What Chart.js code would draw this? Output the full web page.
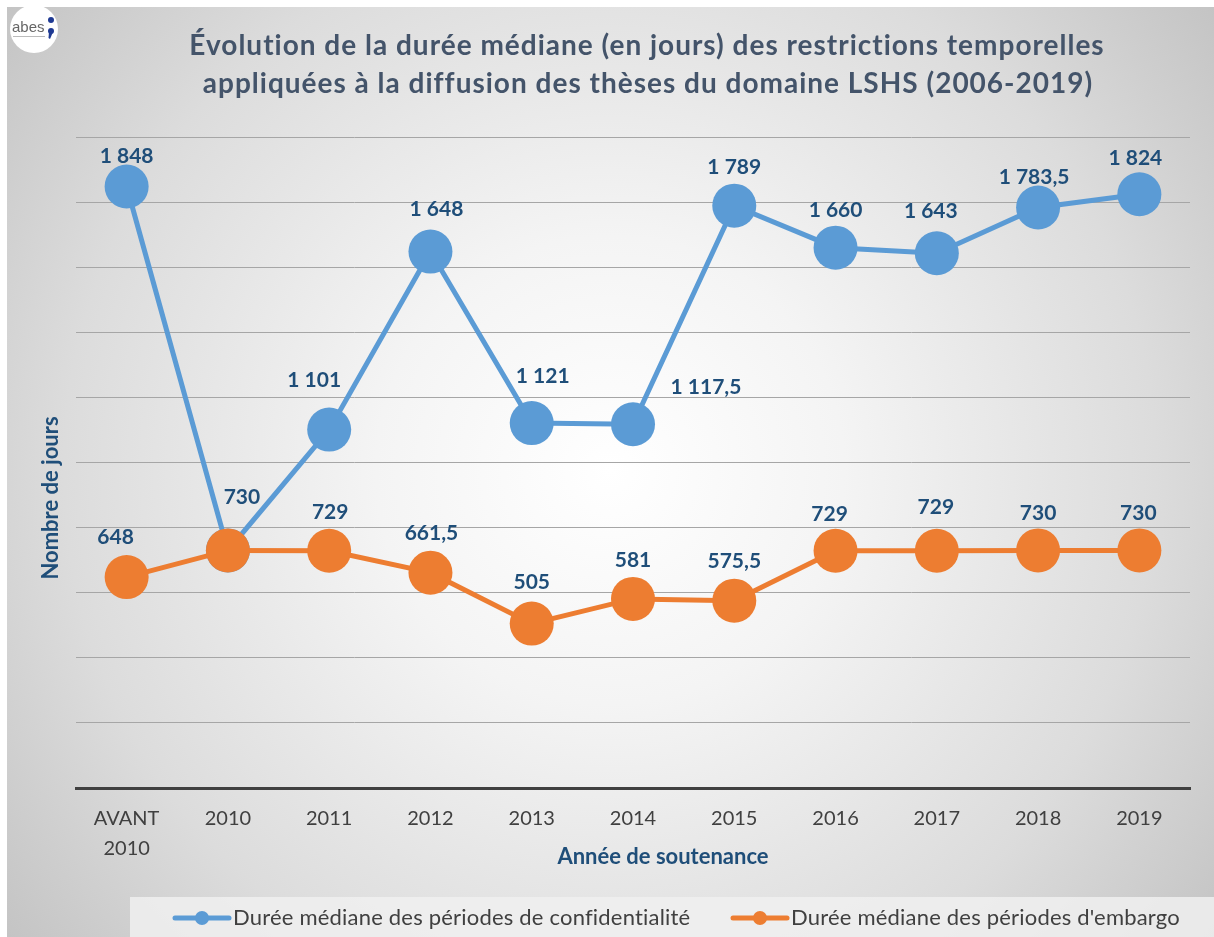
<!DOCTYPE html>
<html>
<head>
<meta charset="utf-8">
<script src="https://cdn.jsdelivr.net/npm/chart.js@4/dist/chart.umd.min.js"></script>
<style>
  html, body { margin: 0; padding: 0; background: #ffffff; }
  canvas { display: block; }
</style>
</head>
<body>
<canvas id="c" width="1214" height="937"></canvas>
<script>
// ---------- DATA ----------
const categories = [['AVANT', '2010'], '2010', '2011', '2012', '2013', '2014', '2015', '2016', '2017', '2018', '2019'];
const seriesNames = ['Durée médiane des périodes de confidentialité', "Durée médiane des périodes d'embargo"];
const confidentialite = [1848, 730, 1101, 1648, 1121, 1117.5, 1789, 1660, 1643, 1783.5, 1824];
const embargo = [648, 730, 729, 661.5, 505, 581, 575.5, 729, 729, 730, 730];
const titleLines = ['Évolution de la durée médiane (en jours) des restrictions temporelles',
                    'appliquées à la diffusion des thèses du domaine LSHS (2006-2019)'];
const yTitle = 'Nombre de jours';
const xTitle = 'Année de soutenance';
const yMin = 0, yMax = 2000, yStep = 200;

// label placement relative to each point (dx, dy); null = label not shown
const confLabelOffsets = [[0,-30],[14,-53],[-15,-49],[6,-42],[11,-47],[73,-37],[0,-38],[0,-37],[-6,-42],[-4,-30],[-4,-36]];
const embLabelOffsets  = [[-11,-40],null,[1,-38],[1,-39],[0,-41],[0,-39],[0,-39],[-6,-36],[-1,-43],[0,-37],[-1,-37]];

// ---------- STYLE ----------
const FONT = 'Lato';
const BLUE = '#5B9BD5', ORANGE = '#ED7D31';
const LABEL_COLOR = '#1F4E79', TITLE_COLOR = '#44546A', TICK_COLOR = '#404040';

function fmt(v) {
  const neg = v < 0; v = Math.abs(v);
  const intPart = Math.trunc(v);
  const dec = Math.round((v - intPart) * 10);
  const s = String(intPart).replace(/\B(?=(\d{3})+(?!\d))/g, ' ');
  return (neg ? '-' : '') + s + (dec ? ',' + dec : '');
}

const bgPlugin = {
  id: 'bg',
  beforeDraw(chart) {
    const ctx = chart.ctx, W = chart.width, H = chart.height;
    ctx.save();
    ctx.fillStyle = '#ffffff';
    ctx.fillRect(0, 0, W, H);
    const g = ctx.createRadialGradient(610, 470, 0, 610, 470, 780);
    g.addColorStop(0, '#ffffff');
    g.addColorStop(0.3, '#f4f4f4');
    g.addColorStop(0.7, '#dcdcdc');
    g.addColorStop(1, '#c2c2c2');
    ctx.fillStyle = g;
    ctx.fillRect(7, 7, W - 7, H - 7);
    // legend band
    ctx.fillStyle = 'rgba(240,240,240,0.85)';
    ctx.fillRect(130, 897, W - 130, H - 897);
    // logo
    ctx.fillStyle = '#ffffff';
    ctx.beginPath(); ctx.arc(34, 29, 24, 0, Math.PI * 2); ctx.fill();
    ctx.fillStyle = '#666666';
    ctx.font = '15px "Liberation Sans"';
    ctx.textAlign = 'left'; ctx.textBaseline = 'alphabetic';
    ctx.fillText('abes', 12, 32);
    ctx.fillStyle = '#bbbbbb';
    ctx.fillRect(13, 36, 32, 1);
    ctx.fillStyle = '#1F3A93';
    ctx.beginPath(); ctx.arc(51, 20, 3, 0, Math.PI * 2); ctx.fill();
    ctx.beginPath(); ctx.arc(51, 31, 3, 0, Math.PI * 2); ctx.fill();
    ctx.beginPath(); ctx.moveTo(53, 32); ctx.lineTo(50, 39); ctx.lineTo(48.5, 38); ctx.lineTo(49, 32); ctx.fill();
    ctx.restore();
  }
};

const overlayPlugin = {
  id: 'overlay',
  afterDraw(chart) {
    const ctx = chart.ctx;
    ctx.save();
    // title
    ctx.fillStyle = TITLE_COLOR;
    ctx.font = `bold 28px "${FONT}"`;
    ctx.letterSpacing = '1px';
    ctx.textAlign = 'center'; ctx.textBaseline = 'middle';
    ctx.fillText(titleLines[0], 647, 46);
    ctx.fillText(titleLines[1], 648, 84);
    ctx.letterSpacing = '0px';
    // axis titles
    ctx.fillStyle = LABEL_COLOR;
    ctx.font = `bold 22px "${FONT}"`;
    ctx.fillText(xTitle, 663, 857);
    ctx.save();
    ctx.translate(51, 498); ctx.rotate(-Math.PI / 2);
    ctx.fillText(yTitle, 0, 0);
    ctx.restore();
    // data labels
    ctx.font = `bold 21px "${FONT}"`;
    ctx.fillStyle = LABEL_COLOR;
    const offs = [confLabelOffsets, embLabelOffsets];
    chart.data.datasets.forEach((ds, di) => {
      const meta = chart.getDatasetMeta(di);
      meta.data.forEach((pt, i) => {
        const o = offs[di][i];
        if (!o) return;
        ctx.fillText(fmt(ds.data[i]), pt.x + o[0], pt.y + o[1]);
      });
    });
    // legend
    ctx.font = `22px "${FONT}"`;
    ctx.letterSpacing = '0.2px';
    ctx.textAlign = 'left';
    ctx.fillStyle = TICK_COLOR;
    const legendItems = [{x: 175, color: BLUE, text: seriesNames[0]}, {x: 733, color: ORANGE, text: seriesNames[1]}];
    legendItems.forEach(it => {
      const y = 918;
      ctx.strokeStyle = it.color; ctx.lineWidth = 5; ctx.lineCap = 'round';
      ctx.beginPath(); ctx.moveTo(it.x, y); ctx.lineTo(it.x + 54, y); ctx.stroke();
      ctx.fillStyle = it.color;
      ctx.beginPath(); ctx.arc(it.x + 27, y, 7, 0, Math.PI * 2); ctx.fill();
      ctx.fillStyle = TICK_COLOR;
      ctx.fillText(it.text, it.x + 58, y);
    });
    ctx.letterSpacing = '0px';
    ctx.restore();
  }
};

const ctx = document.getElementById('c').getContext('2d');
new Chart(ctx, {
  type: 'line',
  data: {
    labels: categories,
    datasets: [
      { label: seriesNames[0], data: confidentialite, borderColor: BLUE, backgroundColor: BLUE,
        pointBackgroundColor: BLUE, pointBorderColor: BLUE, borderWidth: 5, pointRadius: 22,
        pointHoverRadius: 22, pointBorderWidth: 0, tension: 0, order: 1, clip: false },
      { label: seriesNames[1], data: embargo, borderColor: ORANGE, backgroundColor: ORANGE,
        pointBackgroundColor: ORANGE, pointBorderColor: ORANGE, borderWidth: 5, pointRadius: 22,
        pointHoverRadius: 22, pointBorderWidth: 0, tension: 0, order: 0, clip: false }
    ]
  },
  options: {
    responsive: false,
    animation: false,
    events: [],
    layout: { padding: { top: 137, left: 76, right: 24, bottom: 0 } },
    plugins: { legend: { display: false }, title: { display: false }, tooltip: { enabled: false } },
    scales: {
      x: {
        offset: true,
        grid: { display: false, drawTicks: false, offset: true },
        border: { display: true, color: '#404040', width: 3 },
        ticks: { font: { family: FONT, size: 20, lineHeight: 1.5 }, color: TICK_COLOR, padding: 16,
                 maxRotation: 0, autoSkip: false },
        afterFit(s) { s.height = 149; s.paddingLeft = 0; s.paddingRight = 0; }
      },
      y: {
        min: yMin, max: yMax,
        ticks: { display: false, stepSize: yStep },
        grid: { drawTicks: false, lineWidth: 1,
                color: c => (c.tick && c.tick.value === 0) ? 'rgba(0,0,0,0)' : '#a6a6a6' },
        border: { display: false },
        afterFit(s) { s.width = 0; }
      }
    }
  },
  plugins: [bgPlugin, overlayPlugin]
});
</script>
</body>
</html>
